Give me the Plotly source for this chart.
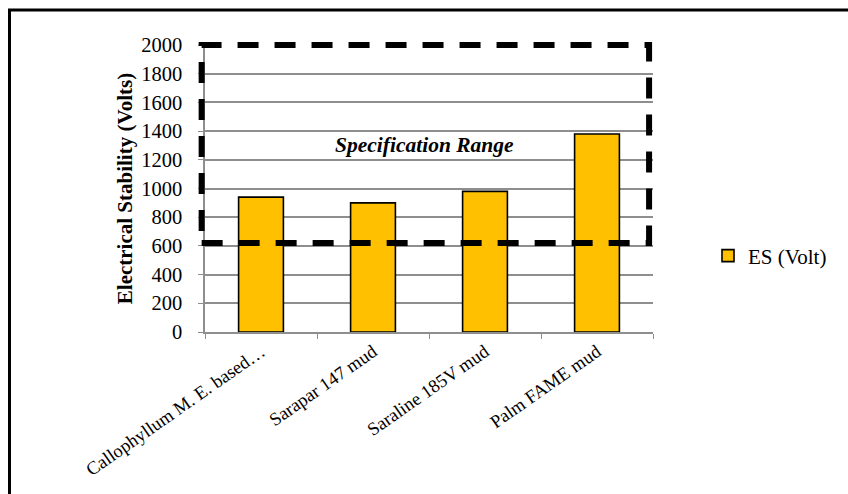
import plotly.graph_objects as go

# Electrical stability of the four mud formulations
categories = [
    "Callophyllum M. E. based…",
    "Sarapar 147 mud",
    "Saraline 185V mud",
    "Palm FAME mud",
]
es_volts = [940, 900, 980, 1380]
series_name = "ES (Volt)"

# Specification window (volts)
spec_low = 620
spec_high = 2000
spec_label = "Specification Range"

y_title = "Electrical Stability (Volts)"
y_ticks = [0, 200, 400, 600, 800, 1000, 1200, 1400, 1600, 1800, 2000]
y_max = 2000

W, H = 848, 494
L, R, T, B = 205, 195, 45, 162
plot_w = W - L - R
plot_h = H - T - B

FONT = "Liberation Serif"
GRID = "#8e8e8e"
n_cat = len(categories)


def px_x(px):
    return (px - L) / plot_w


def px_y(py):
    return (H - B - py) / plot_h


def cat_to_paper(c):
    return (c + 0.5) / n_cat


fig = go.Figure()
fig.add_trace(go.Bar(
    x=categories,
    y=es_volts,
    name=series_name,
    width=0.4,
    marker=dict(color="#FFC000", line=dict(color="#000000", width=1.6)),
    showlegend=True,
))

# Dashed specification window (paper coordinates so the border is not clipped)
fig.add_shape(
    type="rect", xref="paper", yref="paper",
    x0=cat_to_paper(-0.53), x1=cat_to_paper(3.465),
    y0=spec_low / y_max, y1=spec_high / y_max,
    line=dict(color="#000000", width=6, dash="21px,16px"),
    layer="above",
)
fig.add_annotation(
    x=1.46, y=1300, xref="x", yref="y",
    text="<b><i>" + spec_label + "</i></b>",
    showarrow=False,
    font=dict(family=FONT, size=21.5, color="#000000"),
)

# Outer chart frame
fig.add_shape(
    type="rect", xref="paper", yref="paper",
    x0=px_x(9.5), x1=px_x(870), y0=px_y(510), y1=px_y(10),
    line=dict(color="#000000", width=3),
    layer="above",
)

fig.update_layout(
    width=W, height=H,
    margin=dict(l=L, r=R, t=T, b=B, autoexpand=False),
    paper_bgcolor="#ffffff",
    plot_bgcolor="#ffffff",
    font=dict(family=FONT, size=20.5, color="#000000"),
    showlegend=True,
    legend=dict(
        x=px_x(708), y=px_y(256), xanchor="left", yanchor="middle",
        font=dict(family=FONT, size=21, color="#000000"),
        bgcolor="rgba(0,0,0,0)", itemwidth=30,
    ),
)
fig.update_xaxes(
    type="category",
    range=[-0.5, 3.5],
    tickangle=-35,
    tickson="boundaries",
    ticks="outside", ticklen=5, tickcolor=GRID,
    showline=True, linecolor=GRID, linewidth=1.5,
    showgrid=False,
    automargin=False,
    tickfont=dict(family=FONT, size=18.5, color="#000000"),
)
fig.update_yaxes(
    range=[0, y_max],
    tickvals=y_ticks,
    ticks="outside", ticklen=5, tickcolor=GRID,
    showline=True, linecolor=GRID, linewidth=1.5,
    showgrid=True, gridcolor=GRID, gridwidth=1.5,
    zeroline=False,
    automargin=False,
    ticklabelstandoff=12,
    tickfont=dict(family=FONT, size=20.5, color="#000000"),
    title=dict(text="<b>" + y_title + "</b>", standoff=3,
               font=dict(family=FONT, size=21, color="#000000")),
)

fig.write_html("out.html")
